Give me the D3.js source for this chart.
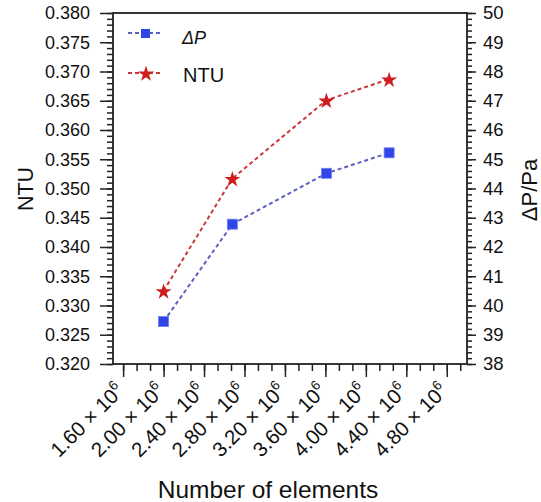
<!DOCTYPE html>
<html>
<head>
<meta charset="utf-8">
<script src="https://cdn.jsdelivr.net/npm/d3@7"></script>
<style>
  html, body { margin: 0; padding: 0; background: #fff; }
  svg { display: block; font-family: "Liberation Sans", Arial, Helvetica, sans-serif; }
</style>
</head>
<body>
<svg id="chart" width="541" height="502"></svg>
<script>
// Mesh-independence study: NTU and pressure drop against mesh size
const elements = [2.0e6, 2.68e6, 3.61e6, 4.23e6];
const ntu = [0.3325, 0.3517, 0.3651, 0.3687];
const deltaP = [39.45, 42.78, 44.52, 45.22];

const xTickValues = [1.6e6, 2.0e6, 2.4e6, 2.8e6, 3.2e6, 3.6e6, 4.0e6, 4.4e6, 4.8e6];
const ntuTicks = [0.320, 0.325, 0.330, 0.335, 0.340, 0.345, 0.350, 0.355, 0.360, 0.365, 0.370, 0.375, 0.380];
const dpTicks = [38, 39, 40, 41, 42, 43, 44, 45, 46, 47, 48, 49, 50];

const seriesNames = ["\u0394P", "NTU"];

const svg = d3.select("#chart");
const m = { left: 113, right: 467, top: 13, bottom: 364 };

const x = d3.scaleLinear().domain([1.5e6, 5.0e6]).range([m.left, m.right]);
const yL = d3.scaleLinear().domain([0.320, 0.380]).range([m.bottom, m.top]);
const yR = d3.scaleLinear().domain([38, 50]).range([m.bottom, m.top]);

const axisColor = "#222";

// minor ticks: thirds on x, fifths on both y axes
const xMinorAll = [];
for (let v = 1.6e6; v <= 5.0e6 + 1; v += 0.4e6 / 3) xMinorAll.push(v);
const yLMinor = d3.range(0, 61).map(i => 0.320 + i * 0.001);
const yRMinor = d3.range(0, 61).map(i => 38 + i * 0.2);

function styleAxis(g) {
  g.select(".domain").remove();
  g.selectAll(".tick line").attr("stroke", axisColor).attr("stroke-width", 1.5);
}

// bottom axis
svg.append("g").attr("transform", `translate(0,${m.bottom})`)
  .call(d3.axisBottom(x).tickValues(xMinorAll).tickSize(7).tickFormat(""))
  .call(styleAxis);
svg.append("g").attr("transform", `translate(0,${m.bottom})`)
  .call(d3.axisBottom(x).tickValues(xTickValues).tickSize(13).tickFormat(""))
  .call(styleAxis);

// rotated scientific labels
const xLab = svg.append("g");
xTickValues.forEach(v => {
  const t = xLab.append("text")
    .attr("text-anchor", "end")
    .attr("font-size", 20.5)
    .attr("fill", "#111")
    .attr("transform", `translate(${x(v) + 2},${m.bottom + 28}) rotate(-45)`);
  t.append("tspan").text((v / 1e6).toFixed(2) + " \u00d7 10");
  t.append("tspan").attr("font-size", 13.5).attr("dy", -8.5).text("6");
});

// left axis
svg.append("g").attr("transform", `translate(${m.left},0)`)
  .call(d3.axisLeft(yL).tickValues(yLMinor).tickSize(6).tickFormat(""))
  .call(styleAxis);
svg.append("g").attr("transform", `translate(${m.left},0)`)
  .call(d3.axisLeft(yL).tickValues(ntuTicks).tickSize(13).tickPadding(10).tickFormat(d3.format(".3f")))
  .call(styleAxis)
  .call(g => g.selectAll("text").attr("font-size", 18).attr("fill", "#111").attr("font-family", null));

// right axis
svg.append("g").attr("transform", `translate(${m.right},0)`)
  .call(d3.axisRight(yR).tickValues(yRMinor).tickSize(5).tickFormat(""))
  .call(styleAxis);
svg.append("g").attr("transform", `translate(${m.right},0)`)
  .call(d3.axisRight(yR).tickValues(dpTicks).tickSize(9).tickPadding(7).tickFormat(d3.format("d")))
  .call(styleAxis)
  .call(g => g.selectAll("text").attr("font-size", 18.5).attr("fill", "#111").attr("font-family", null));

// frame
svg.append("rect")
  .attr("x", m.left).attr("y", m.top)
  .attr("width", m.right - m.left).attr("height", m.bottom - m.top)
  .attr("fill", "none").attr("stroke", axisColor).attr("stroke-width", 1.8);

// axis titles
svg.append("text").attr("text-anchor", "middle").attr("font-size", 24.5).attr("fill", "#111")
  .attr("x", 268).attr("y", 498).text("Number of elements");
svg.append("text").attr("text-anchor", "middle").attr("font-size", 21.5).attr("fill", "#111")
  .attr("transform", `translate(33,189) rotate(-90)`).text("NTU");
svg.append("text").attr("text-anchor", "middle").attr("font-size", 22).attr("fill", "#111")
  .attr("transform", `translate(537,190) rotate(-90)`).text("\u0394P/Pa");

// series
const blueLine = "#5a5fc0", blueMark = "#2f45e6";
const redLine = "#c83a3a", redMark = "#d01c1c";
const star = d3.symbol().type(d3.symbolStar).size(80);

const dpPts = elements.map((e, i) => [x(e), yR(deltaP[i])]);
const ntuPts = elements.map((e, i) => [x(e), yL(ntu[i])]);

svg.append("path").attr("d", d3.line()(dpPts)).attr("fill", "none")
  .attr("stroke", blueLine).attr("stroke-width", 2).attr("stroke-dasharray", "4,3");
svg.append("path").attr("d", d3.line()(ntuPts)).attr("fill", "none")
  .attr("stroke", redLine).attr("stroke-width", 2).attr("stroke-dasharray", "4,3");

svg.selectAll(".sq").data(dpPts).enter().append("rect")
  .attr("x", d => d[0] - 5).attr("y", d => d[1] - 5).attr("width", 10).attr("height", 10)
  .attr("fill", blueMark).attr("stroke", "#6f7ff0").attr("stroke-width", 0.8);
svg.selectAll(".st").data(ntuPts).enter().append("path")
  .attr("d", star).attr("transform", d => `translate(${d[0]},${d[1] + 1})`)
  .attr("fill", redMark);

// legend
const lg = svg.append("g");
lg.append("line").attr("x1", 128).attr("x2", 163).attr("y1", 33).attr("y2", 33)
  .attr("stroke", blueLine).attr("stroke-width", 2).attr("stroke-dasharray", "4,3");
lg.append("rect").attr("x", 141).attr("y", 29).attr("width", 9).attr("height", 9)
  .attr("fill", blueMark);
lg.append("text").attr("x", 182).attr("y", 44).attr("font-size", 18).attr("font-style", "italic")
  .attr("fill", "#111").text(seriesNames[0]);
lg.append("line").attr("x1", 128).attr("x2", 163).attr("y1", 73).attr("y2", 73)
  .attr("stroke", redLine).attr("stroke-width", 2).attr("stroke-dasharray", "4,3");
lg.append("path").attr("d", star).attr("transform", "translate(146,74)").attr("fill", redMark);
lg.append("text").attr("x", 183).attr("y", 82).attr("font-size", 20)
  .attr("fill", "#111").text(seriesNames[1]);
</script>
</body>
</html>
